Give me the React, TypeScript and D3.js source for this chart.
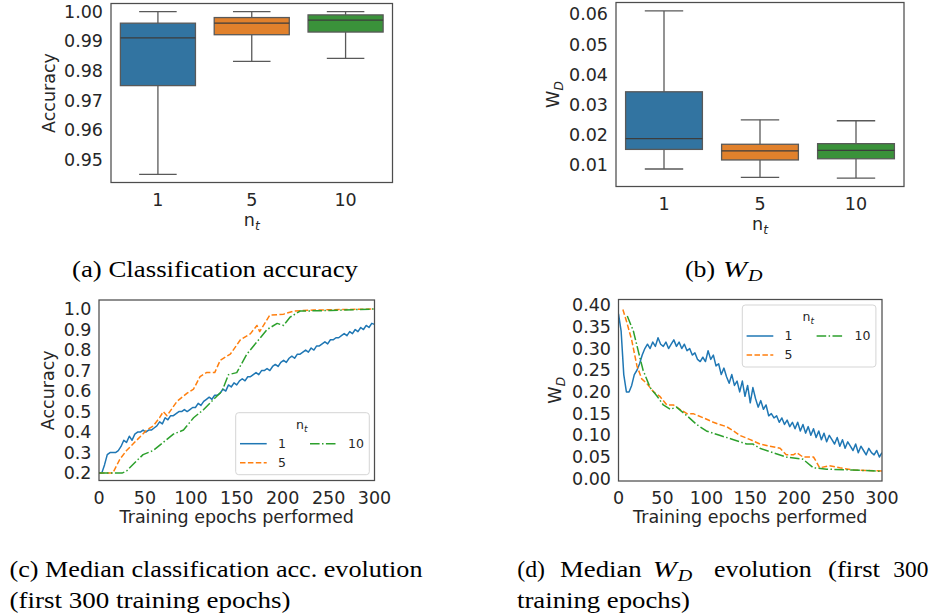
import React from "react";
import * as d3 from "d3";

// ---- data: final boxplots ----
const boxCats = ["1", "5", "10"];
const accLo = [0.945, 0.9832, 0.9842];
const accQ1 = [0.975, 0.9922, 0.9931];
const accMed = [0.9911, 0.9961, 0.9971];
const accQ3 = [0.9961, 0.998, 0.9989];
const accHi = [1.0, 1.0, 1.0];

const wdLo = [0.0087, 0.0059, 0.0057];
const wdQ1 = [0.0152, 0.0117, 0.0121];
const wdMed = [0.0188, 0.0147, 0.0149];
const wdQ3 = [0.0343, 0.0169, 0.0171];
const wdHi = [0.0611, 0.025, 0.0247];

// ---- data: median evolution, first 300 epochs ----
// n_t = 1, read every 3 epochs
const accBlue = [
  0.2, 0.2, 0.24, 0.29, 0.3, 0.3, 0.3, 0.31, 0.33, 0.36, 0.35, 0.38, 0.36, 0.39, 0.4, 0.4, 0.41, 0.4, 0.41, 0.41,
  0.42, 0.43, 0.45, 0.44, 0.47, 0.46, 0.48, 0.48, 0.49, 0.5, 0.5, 0.51, 0.5, 0.51, 0.52, 0.52, 0.54, 0.53, 0.55, 0.56,
  0.57, 0.56, 0.58, 0.58, 0.59, 0.61, 0.6, 0.63, 0.62, 0.64, 0.63, 0.65, 0.66, 0.65, 0.67, 0.67, 0.68, 0.69, 0.68, 0.7,
  0.7, 0.71, 0.7, 0.72, 0.73, 0.72, 0.74, 0.75, 0.74, 0.76, 0.77, 0.76, 0.78, 0.78, 0.79, 0.8, 0.79, 0.81, 0.8, 0.82,
  0.82, 0.83, 0.84, 0.83, 0.85, 0.85, 0.86, 0.86, 0.87, 0.88, 0.87, 0.89, 0.88, 0.9, 0.89, 0.91, 0.9, 0.92, 0.91, 0.93,
  0.925,
];
const wdBlue = [
  0.38, 0.34, 0.24, 0.2, 0.2, 0.215, 0.24, 0.25, 0.265, 0.285, 0.3, 0.31, 0.3, 0.315, 0.305, 0.325, 0.31, 0.305, 0.315, 0.3,
  0.31, 0.32, 0.305, 0.315, 0.3, 0.31, 0.295, 0.3, 0.285, 0.29, 0.275, 0.27, 0.28, 0.27, 0.295, 0.275, 0.285, 0.26, 0.265, 0.24,
  0.255, 0.235, 0.22, 0.24, 0.215, 0.225, 0.2, 0.225, 0.19, 0.215, 0.175, 0.21, 0.185, 0.165, 0.18, 0.16, 0.17, 0.145, 0.15, 0.14,
  0.145, 0.13, 0.14, 0.125, 0.135, 0.12, 0.13, 0.115, 0.13, 0.11, 0.125, 0.105, 0.12, 0.1, 0.115, 0.095, 0.11, 0.09, 0.105, 0.085,
  0.1, 0.09, 0.08, 0.095, 0.075, 0.09, 0.07, 0.085, 0.075, 0.065, 0.08, 0.06, 0.075, 0.065, 0.055, 0.07, 0.06, 0.055, 0.065, 0.05,
  0.06,
];
const blueStep = 3;

// n_t = 5
const accOrangeEp = [0, 15, 23, 30, 41, 52, 59, 66, 70, 74, 85, 96, 103, 110, 117, 126, 132, 143, 154, 165, 172, 175, 186, 201, 212, 234, 300];
const accOrange = [0.2, 0.2, 0.27, 0.31, 0.36, 0.41, 0.43, 0.47, 0.5, 0.48, 0.55, 0.59, 0.61, 0.67, 0.69, 0.69, 0.75, 0.78, 0.85, 0.88, 0.92, 0.89, 0.97, 0.975, 0.99, 0.995, 1.0];
// n_t = 10
const accGreenEp = [0, 25, 30, 41, 48, 59, 70, 81, 92, 103, 114, 125, 134, 141, 150, 161, 172, 183, 194, 201, 208, 219, 252, 300];
const accGreen = [0.2, 0.2, 0.21, 0.26, 0.29, 0.31, 0.35, 0.39, 0.41, 0.47, 0.51, 0.56, 0.6, 0.68, 0.69, 0.78, 0.84, 0.9, 0.93, 0.92, 0.96, 0.99, 0.993, 1.0];

const wdOrangeEp = [5, 9.5, 15, 21, 26.5, 32, 40, 47, 55, 62.5, 70, 78, 85, 97, 108, 115, 123, 131, 138, 150, 161, 172, 184, 191, 199, 203, 210, 222, 225, 229, 240, 252, 267, 300];
const wdOrange = [0.39, 0.36, 0.32, 0.26, 0.23, 0.22, 0.2, 0.19, 0.17, 0.17, 0.16, 0.15, 0.15, 0.14, 0.13, 0.125, 0.12, 0.11, 0.1, 0.09, 0.08, 0.075, 0.07, 0.055, 0.055, 0.06, 0.05, 0.05, 0.04, 0.025, 0.03, 0.025, 0.02, 0.018];
const wdGreenEp = [10, 17, 23, 28, 36, 44, 51, 59, 66, 78, 89, 100, 115, 131, 146, 153, 161, 176, 191, 210, 222, 237, 267, 300];
const wdGreen = [0.375, 0.34, 0.29, 0.25, 0.21, 0.19, 0.17, 0.16, 0.165, 0.145, 0.125, 0.11, 0.1, 0.09, 0.08, 0.08, 0.07, 0.06, 0.05, 0.045, 0.025, 0.022, 0.02, 0.017];

const legendLabels = ["1", "5", "10"];

// ---- style ----
const BOX_FILL = ["#3274a1", "#e1812c", "#3a923a"];
const LINE_COL = ["#1f77b4", "#ff7f0e", "#2ca02c"];
const DASH = ["none", "5.5,2.4", "9.6,2.4,1.5,2.4"];
const SANS = "DejaVu Sans";
const SERIF = "'Liberation Serif', 'Times New Roman', Times, serif";
const TXT = "#262626";
const FS = 17.5;

type Frame = { l: number; r: number; t: number; b: number };

const PA: Frame = { l: 111, r: 392.5, t: 3.5, b: 182.5 };
const PB: Frame = { l: 616, r: 904, t: 2.5, b: 186.5 };
const PC: Frame = { l: 99, r: 374.5, t: 300, b: 480.5 };
const PD: Frame = { l: 618.5, r: 882, t: 299.5, b: 481 };

const SubLabel = ({ main, sub }: { main: string; sub: string }) => (
  <>
    <tspan>{main}</tspan>
    <tspan fontSize={FS * 0.7} dy={4} fontStyle="italic">
      {sub}
    </tspan>
  </>
);

const BoxPanel = ({ f, lo, q1, med, q3, hi, domain, ticks, ylabel, yoff }: any) => {
  const y = d3.scaleLinear().domain(domain).range([f.b, f.t]);
  const x = d3.scaleBand().domain(boxCats).range([f.l, f.r]).paddingInner(0.2).paddingOuter(0.1);
  const bw = x.bandwidth();
  const fmt = d3.format(".2f");
  return (
    <g>
      {boxCats.map((c, i) => {
        const cx = x(c)! + bw / 2;
        return (
          <g key={c} stroke="#595959" strokeWidth={1.3}>
            <line x1={cx} x2={cx} y1={y(hi[i])} y2={y(q3[i])} />
            <line x1={cx} x2={cx} y1={y(lo[i])} y2={y(q1[i])} />
            <line x1={cx - bw / 4} x2={cx + bw / 4} y1={y(hi[i])} y2={y(hi[i])} />
            <line x1={cx - bw / 4} x2={cx + bw / 4} y1={y(lo[i])} y2={y(lo[i])} />
            <rect x={x(c)} width={bw} y={y(q3[i])} height={y(q1[i]) - y(q3[i])} fill={BOX_FILL[i]} />
            <line x1={x(c)} x2={x(c)! + bw} y1={y(med[i])} y2={y(med[i])} stroke="#3d3d3d" />
            <text x={cx} y={f.b + 23} textAnchor="middle" fill={TXT} stroke="none" fontSize={FS} fontFamily={SANS}>
              {c}
            </text>
          </g>
        );
      })}
      <rect x={f.l} y={f.t} width={f.r - f.l} height={f.b - f.t} fill="none" stroke="#4d4d4d" strokeWidth={1.25} />
      {ticks.map((t: number) => (
        <text key={t} x={f.l - 8} y={y(t)} dy="0.35em" textAnchor="end" fill={TXT} fontSize={FS} fontFamily={SANS}>
          {fmt(t)}
        </text>
      ))}
      <text x={(f.l + f.r) / 2} y={f.b + 43.5} textAnchor="middle" fill={TXT} fontSize={FS} fontFamily={SANS}>
        <SubLabel main="n" sub="t" />
      </text>
      <text
        transform={`translate(${f.l - yoff},${(f.t + f.b) / 2}) rotate(-90)`}
        textAnchor="middle"
        dy="0.35em"
        fill={TXT}
        fontSize={FS}
        fontFamily={SANS}
      >
        {ylabel}
      </text>
    </g>
  );
};

const Legend = ({ x0, y0 }: { x0: number; y0: number }) => {
  const rows = [
    { i: 0, col: 0, row: 0 },
    { i: 1, col: 0, row: 1 },
    { i: 2, col: 1, row: 0 },
  ];
  return (
    <g fontFamily={SANS} fontSize={12.5} fill={TXT}>
      <rect x={x0} y={y0} width={133.6} height={62} rx={3} fill="#fff" fillOpacity={0.8} stroke="#d0d0d0" strokeWidth={0.9} />
      <text x={x0 + 66} y={y0 + 12} dy="0.35em" textAnchor="middle">
        <tspan>n</tspan>
        <tspan fontSize={9} dy={3} fontStyle="italic">
          t
        </tspan>
      </text>
      {rows.map((r) => {
        const lx = x0 + 4.3 + r.col * 70;
        const ly = y0 + 31 + r.row * 19;
        return (
          <g key={r.i}>
            <line x1={lx} x2={lx + 26.7} y1={ly} y2={ly} stroke={LINE_COL[r.i]} strokeWidth={1.5} strokeDasharray={DASH[r.i]} />
            <text x={lx + 38} y={ly} dy="0.35em">
              {legendLabels[r.i]}
            </text>
          </g>
        );
      })}
    </g>
  );
};

const LinePanel = ({ f, series, domain, ticks, tickFmt, ylabel, yoff, legend }: any) => {
  const x = d3.scaleLinear().domain([0, 300]).range([f.l, f.r]);
  const y = d3.scaleLinear().domain(domain).range([f.b, f.t]);
  const line = d3
    .line<[number, number]>()
    .x((d) => x(d[0]))
    .y((d) => y(d[1]));
  const fmt = d3.format(tickFmt);
  return (
    <g>
      <defs>
        <clipPath id={`clip${f.l}`}>
          <rect x={f.l} y={f.t} width={f.r - f.l} height={f.b - f.t} />
        </clipPath>
      </defs>
      <g clipPath={`url(#clip${f.l})`}>
        {series.map((s: [number, number][], i: number) => (
          <path
            key={i}
            d={line(s) || ""}
            fill="none"
            stroke={LINE_COL[i]}
            strokeWidth={1.5}
            strokeDasharray={DASH[i]}
            strokeLinejoin="round"
          />
        ))}
      </g>
      <rect x={f.l} y={f.t} width={f.r - f.l} height={f.b - f.t} fill="none" stroke="#4d4d4d" strokeWidth={1.25} />
      {ticks.map((t: number) => (
        <text key={t} x={f.l - 7.5} y={y(t)} dy="0.35em" textAnchor="end" fill={TXT} fontSize={FS} fontFamily={SANS}>
          {fmt(t)}
        </text>
      ))}
      {d3.range(0, 301, 50).map((t) => (
        <text key={t} x={x(t)} y={f.b + 23} textAnchor="middle" fill={TXT} fontSize={FS} fontFamily={SANS}>
          {t}
        </text>
      ))}
      <text x={(f.l + f.r) / 2} y={f.b + 42} textAnchor="middle" fill={TXT} fontSize={FS} fontFamily={SANS}>
        Training epochs performed
      </text>
      <text
        transform={`translate(${f.l - yoff},${(f.t + f.b) / 2}) rotate(-90)`}
        textAnchor="middle"
        dy="0.35em"
        fill={TXT}
        fontSize={FS}
        fontFamily={SANS}
      >
        {ylabel}
      </text>
      <Legend x0={legend[0]} y0={legend[1]} />
    </g>
  );
};

const zip = (xs: number[], ys: number[]) => xs.map((v, i) => [v, ys[i]] as [number, number]);
const blueSeries = (vals: number[]) => vals.map((v, i) => [i * blueStep, v] as [number, number]);

const WD = () => <SubLabel main="W" sub="D" />;

// caption word: stretched to the width it has in the reference
const Word = ({ x, y, w, children, italic, size }: any) => (
  <text
    x={x}
    y={y}
    textLength={w}
    lengthAdjust="spacingAndGlyphs"
    fontStyle={italic ? "italic" : "normal"}
    fontSize={size}
  >
    {children}
  </text>
);

// math W_D in the captions
const CapWD = ({ x, y }: { x: number; y: number }) => (
  <>
    <Word x={x} y={y} w={24} italic>
      W
    </Word>
    <Word x={x + 25} y={y + 4} w={14.5} italic size={17}>
      D
    </Word>
  </>
);

export default function App() {
  const L1 = 576.5;
  const L2 = 608;
  return (
    <svg width={935} height={614} style={{ position: "absolute", left: 0, top: 0, background: "#fff" }}>
      <BoxPanel
        f={PA}
        lo={accLo}
        q1={accQ1}
        med={accMed}
        q3={accQ3}
        hi={accHi}
        domain={[0.94225, 1.00275]}
        ticks={[0.95, 0.96, 0.97, 0.98, 0.99, 1.0]}
        ylabel="Accuracy"
        yoff={62}
      />
      <BoxPanel
        f={PB}
        lo={wdLo}
        q1={wdQ1}
        med={wdMed}
        q3={wdQ3}
        hi={wdHi}
        domain={[0.0029, 0.0639]}
        ticks={[0.01, 0.02, 0.03, 0.04, 0.05, 0.06]}
        ylabel={<WD />}
        yoff={63.5}
      />
      <LinePanel
        f={PC}
        series={[blueSeries(accBlue), zip(accOrangeEp, accOrange), zip(accGreenEp, accGreen)]}
        domain={[0.164, 1.044]}
        ticks={d3.range(2, 11).map((v) => v / 10)}
        tickFmt=".1f"
        ylabel="Accuracy"
        yoff={51}
        legend={[235.7, 412.7]}
      />
      <LinePanel
        f={PD}
        series={[blueSeries(wdBlue), zip(wdOrangeEp, wdOrange), zip(wdGreenEp, wdGreen)]}
        domain={[-0.0053, 0.4131]}
        ticks={d3.range(0, 9).map((v) => v * 0.05)}
        tickFmt=".2f"
        ylabel={<WD />}
        yoff={63.5}
        legend={[742.3, 305]}
      />

      {/* captions */}
      <g fontFamily={SERIF} fontSize={24} fontWeight={400} fill="#000">
        <Word x={72} y={277} w={286}>
          (a) Classification accuracy
        </Word>
        <Word x={685} y={277} w={30}>
          (b)
        </Word>
        <CapWD x={723} y={277} />
        <Word x={9.5} y={L1} w={413}>
          (c) Median classification acc. evolution
        </Word>
        <Word x={9.5} y={L2} w={281}>
          (first 300 training epochs)
        </Word>
        <Word x={517.3} y={L1} w={27.7}>
          (d)
        </Word>
        <Word x={560} y={L1} w={81.7}>
          Median
        </Word>
        <CapWD x={652.7} y={L1} />
        <Word x={714} y={L1} w={97.7}>
          evolution
        </Word>
        <Word x={828} y={L1} w={52}>
          (first
        </Word>
        <Word x={893.3} y={L1} w={35}>
          300
        </Word>
        <Word x={517} y={L2} w={173}>
          training epochs)
        </Word>
      </g>
    </svg>
  );
}
